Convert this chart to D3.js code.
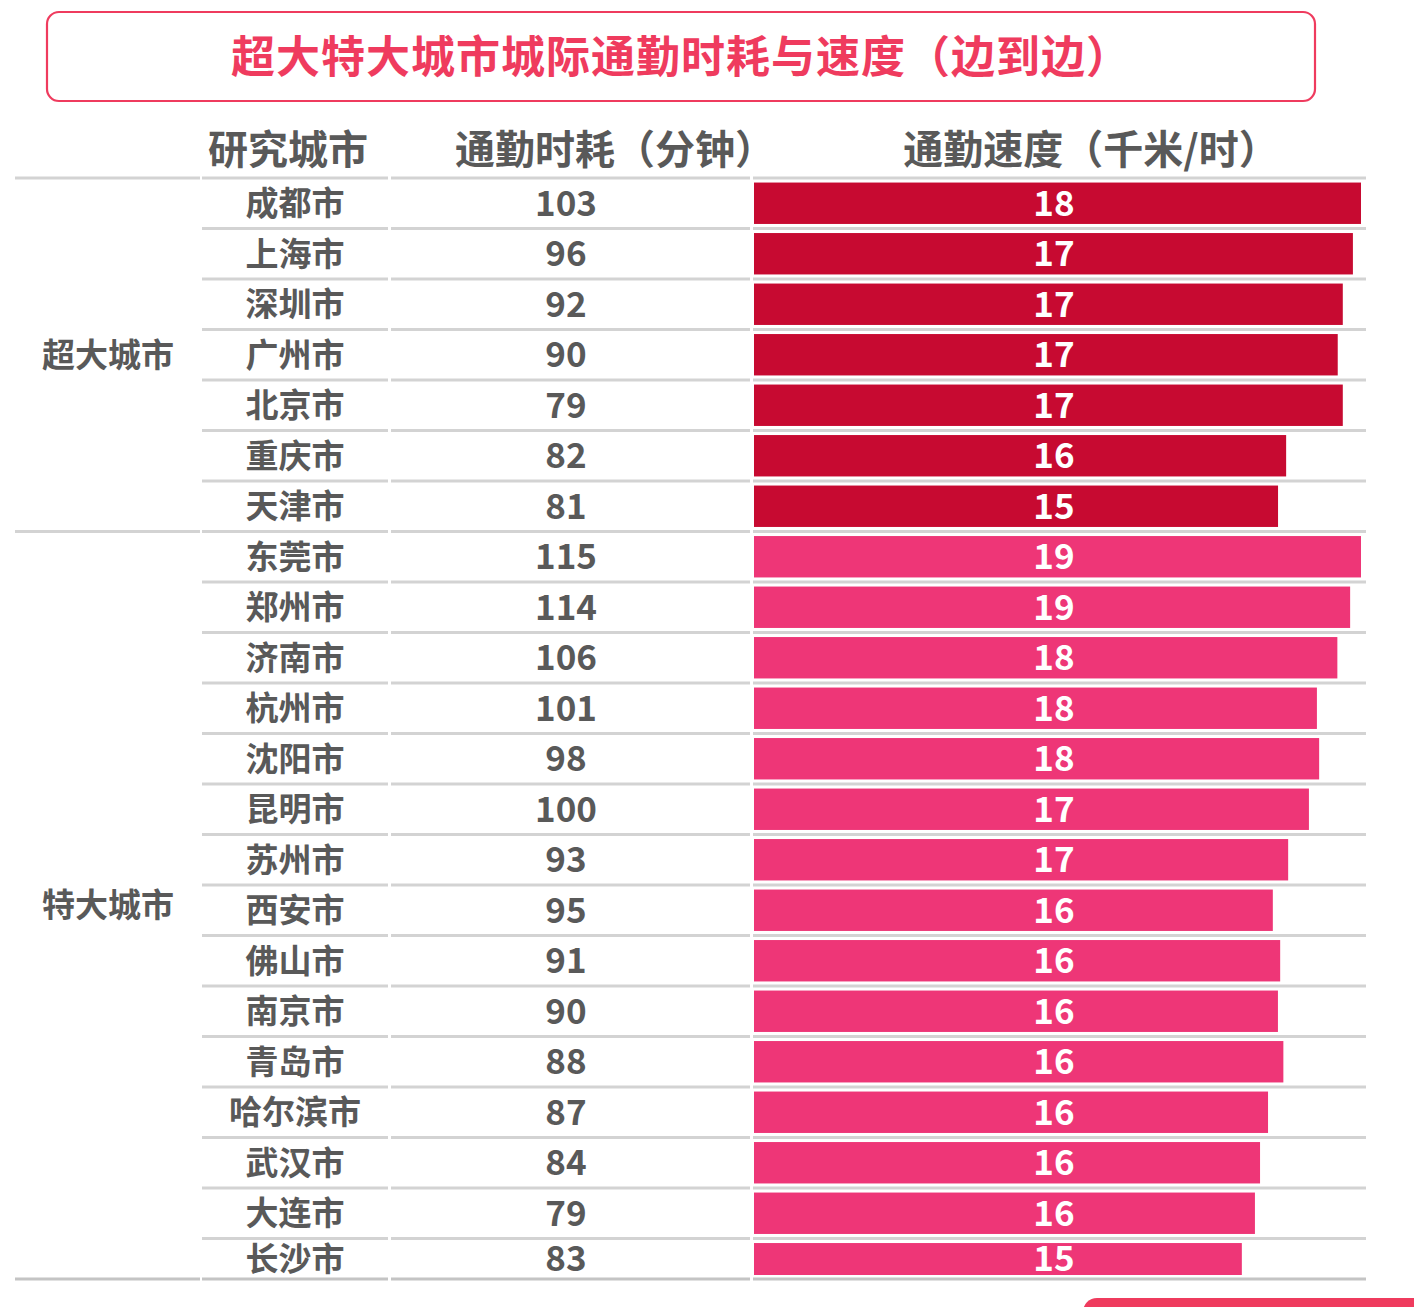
<!DOCTYPE html>
<head>
  <meta charset="utf-8">
  <script src="https://cdn.jsdelivr.net/npm/d3@7/dist/d3.min.js"></script>
  <style>
    body { margin:0; background:#fff; }
    text { font-family: "Noto Sans CJK SC", "Noto Sans", sans-serif; font-weight: 700; }
  </style>
</head>
<body>
  <script>
    // data
    var titleText = "超大特大城市城际通勤时耗与速度（边到边）";
    var headers = ["研究城市", "通勤时耗（分钟）", "通勤速度（千米/时）"];
    var groups = ["超大城市", "特大城市"];

    var superCities = ["成都市", "上海市", "深圳市", "广州市", "北京市", "重庆市", "天津市"];
    var superTime = [103, 96, 92, 90, 79, 82, 81];
    var superSpeed = [18, 17, 17, 17, 17, 16, 15];          // printed labels
    var superBar = [18, 17.76, 17.46, 17.31, 17.46, 15.78, 15.54]; // bar lengths

    var specialCities = ["东莞市", "郑州市", "济南市", "杭州市", "沈阳市", "昆明市", "苏州市", "西安市",
                         "佛山市", "南京市", "青岛市", "哈尔滨市", "武汉市", "大连市", "长沙市"];
    var specialTime = [115, 114, 106, 101, 98, 100, 93, 95, 91, 90, 88, 87, 84, 79, 83];
    var specialSpeed = [19, 19, 18, 18, 18, 17, 17, 16, 16, 16, 16, 16, 16, 16, 15];
    var specialBar = [19, 18.66, 18.26, 17.62, 17.69, 17.37, 16.72, 16.24, 16.47, 16.40, 16.57, 16.09, 15.84, 15.68, 15.27];

    var width = 1414, height = 1307;
    var grey = "#595959", lineCol = "#d3d3d3";
    var superCol = "#c70a31", specialCol = "#ee3677", titleCol = "#ef3b5e";

    var svg = d3.select("body").append("svg")
      .attr("width", width)
      .attr("height", height);

    // title box
    svg.append("rect")
      .attr("x", 47).attr("y", 12).attr("width", 1268).attr("height", 89)
      .attr("rx", 12)
      .style("fill", "none").style("stroke", titleCol).style("stroke-width", 2.2);
    svg.append("text")
      .attr("x", 681).attr("y", 73)
      .attr("text-anchor", "middle")
      .style("font-size", "44px").style("letter-spacing", "1px").style("fill", titleCol)
      .text(titleText);

    // header
    var headX = [288, 615, 1091];
    svg.selectAll(".head").data(headers).enter().append("text")
      .attr("class", "head")
      .attr("x", function(d, i) { return headX[i]; })
      .attr("y", 164)
      .attr("text-anchor", "middle")
      .style("font-size", "40px").style("fill", grey)
      .text(function(d) { return d; });

    // rows
    var rows = [];
    superCities.forEach(function(c, i) {
      rows.push({city: c, time: superTime[i], speed: superSpeed[i], bar: superBar[i], g: 0});
    });
    specialCities.forEach(function(c, i) {
      rows.push({city: c, time: specialTime[i], speed: specialSpeed[i], bar: specialBar[i], g: 1});
    });

    var rowStart = 178, pitch = 50.5, rowEnd = 1279;
    var y = d3.scaleBand()
      .domain(rows.map(function(d) { return d.city; }))
      .range([rowStart, rowStart + pitch * rows.length])
      .paddingInner(0.18).paddingOuter(0.09);

    function rowTop(i) { return rowStart + pitch * i; }
    function rowMid(i) { return (rowTop(i) + Math.min(rowTop(i + 1), rowEnd)) / 2; }

    var xSuper = d3.scaleLinear().domain([0, d3.max(superBar)]).range([754, 1361]);
    var xSpecial = d3.scaleLinear().domain([0, d3.max(specialBar)]).range([754, 1361]);

    svg.append("clipPath").attr("id", "clip")
      .append("rect").attr("x", 0).attr("y", 0).attr("width", width).attr("height", rowEnd - 4);

    svg.append("g").attr("clip-path", "url(#clip)")
      .selectAll("rect").data(rows).enter().append("rect")
      .attr("x", 754)
      .attr("y", function(d) { return y(d.city); })
      .attr("height", y.bandwidth())
      .attr("width", function(d) { return (d.g ? xSpecial(d.bar) : xSuper(d.bar)) - 754; })
      .style("fill", function(d) { return d.g ? specialCol : superCol; });

    // separator lines
    var cols = [[202, 388], [391, 750], [753, 1366]];
    var lines = svg.append("g");
    for (var b = 0; b <= rows.length; b++) {
      var ly = b == rows.length ? rowEnd : rowTop(b);
      var lc = b == rows.length ? "#c4c4c4" : lineCol;
      cols.forEach(function(c) {
        lines.append("line")
          .attr("x1", c[0]).attr("x2", c[1]).attr("y1", ly).attr("y2", ly)
          .style("stroke", lc).style("stroke-width", 3);
      });
      if (b == 0 || b == superCities.length || b == rows.length) {
        lines.append("line")
          .attr("x1", 15).attr("x2", 200).attr("y1", ly).attr("y2", ly)
          .style("stroke", lc).style("stroke-width", 3);
      }
    }

    // texts
    var t = svg.append("g");
    t.selectAll(".city").data(rows).enter().append("text")
      .attr("class", "city")
      .attr("x", 295).attr("y", function(d, i) { return rowMid(i); })
      .attr("dy", "0.36em").attr("text-anchor", "middle")
      .style("font-size", "33px")
      .style("fill", grey).text(function(d) { return d.city; });
    t.selectAll(".time").data(rows).enter().append("text")
      .attr("class", "time")
      .attr("x", 566).attr("y", function(d, i) { return rowMid(i); })
      .attr("dy", "0.36em").attr("text-anchor", "middle")
      .style("font-size", "35px")
      .style("fill", grey).text(function(d) { return d.time; });
    t.selectAll(".speed").data(rows).enter().append("text")
      .attr("class", "speed")
      .attr("x", 1054).attr("y", function(d, i) { return rowMid(i); })
      .attr("dy", "0.36em").attr("text-anchor", "middle")
      .style("font-size", "35px")
      .style("fill", "#fff").text(function(d) { return d.speed; });

    // group labels
    var groupMid = [(rowTop(0) + rowTop(superCities.length)) / 2, (rowTop(superCities.length) + rowEnd) / 2];
    t.selectAll(".grp").data(groups).enter().append("text")
      .attr("class", "grp")
      .attr("x", 108).attr("y", function(d, i) { return groupMid[i]; })
      .attr("dy", "0.36em").attr("text-anchor", "middle")
      .style("fill", grey).style("font-size", "33px")
      .text(function(d) { return d; });

    // corner decoration
    svg.append("rect")
      .attr("x", 1083).attr("y", 1298).attr("width", 400).attr("height", 40).attr("rx", 14)
      .style("fill", titleCol);
  </script>
</body>
